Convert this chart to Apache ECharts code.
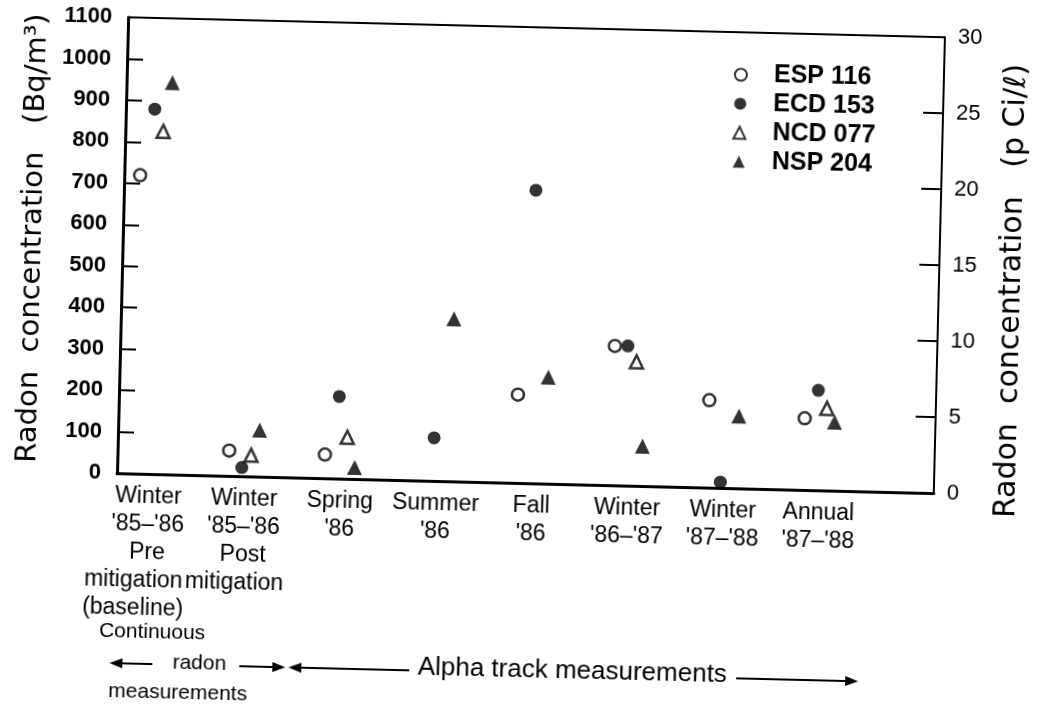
<!DOCTYPE html>
<html>
<head>
<meta charset="utf-8">
<script src="https://cdn.jsdelivr.net/npm/echarts/dist/echarts.min.js"></script>
<style>
  html, body { margin: 0; padding: 0; background: #fff; overflow: hidden; }
  /* the scanned figure is tilted a little clockwise */
  #radon { width: 1043px; height: 713px; transform: rotate(1.4deg); transform-origin: 521px 356px; }
</style>
</head>
<body>
<div id="radon"></div>
<script>
var categories = [
  "Winter\n'85–'86\nPre\nmitigation\n(baseline)",
  "Winter\n'85–'86\nPost\nmitigation",
  "Spring\n'86",
  "Summer\n'86",
  "Fall\n'86",
  "Winter\n'86–'87",
  "Winter\n'87–'88",
  "Annual\n'87–'88"
];
// Bq/m3
var esp116 = [720, 61, 57, null, 213, 336, 211, 173];
var ecd153 = [880, 21, 198, 104, 707, 337, 14, 241];
var ncd077 = [827, 51, 100, null, null, 299, null, 198];
var nsp204 = [945, 112, 28, 392, 257, 96, 174, 165];
var seriesNames = ['ESP 116', 'ECD 153', 'NCD 077', 'NSP 204'];
var bqMax = 1100, bqStep = 100;
var pciMax = 30, pciStep = 5;

var font = "'Liberation Sans', Arial, sans-serif";
var wideFont = "'DejaVu Sans', sans-serif";
var chart = echarts.init(document.getElementById('radon'));

function arrow(x1, x2, y) {
  // line from x1 to x2, head drawn at x2
  var d = x2 > x1 ? -1 : 1;
  return [
    { type: 'line', shape: { x1: x1, y1: y, x2: x2 + d * 8, y2: y }, style: { stroke: '#000', lineWidth: 2 } },
    { type: 'polygon', shape: { points: [[x2, y], [x2 + d * 13, y - 5], [x2 + d * 13, y + 5]] }, style: { fill: '#000' } }
  ];
}

function note(text, x, y, size) {
  return { type: 'text', x: x, y: y, style: { text: text, font: size + 'px ' + font, fill: '#000', textAlign: 'center', textVerticalAlign: 'middle' } };
}

var graphics = [].concat(
  note('Continuous', 159, 641, 21),
  note('radon', 207, 671, 21),
  note('measurements', 186, 701, 21),
  note('Alpha track measurements', 580, 670, 26),
  arrow(160, 117, 673),
  arrow(247, 293, 673),
  arrow(417, 296, 673),
  arrow(744, 866, 673)
);

// the long lower lines of the first two labels sit a bit to the left
function catLabel(value, index) {
  var lines = value.split('\n');
  if (index < 2) {
    for (var i = 3; i < lines.length; i++) {
      lines[i] = '{s' + index + '|' + lines[i] + '}';
    }
  }
  return lines.join('\n');
}

function pointSeries(name, data, symbol, filled, size, dx) {
  return {
    name: name,
    type: 'scatter',
    xAxisIndex: 1,
    yAxisIndex: 2,
    data: data,
    symbol: symbol,
    symbolSize: size,
    symbolOffset: [dx, 0],
    itemStyle: filled ? { color: '#000' } : { color: '#fff', borderColor: '#000', borderWidth: 2.5 },
    emphasis: { disabled: true }
  };
}

option = {
  backgroundColor: '#fff',
  animation: false,
  grid: [
    { left: 120, right: 106, top: 27, bottom: 230, show: true, borderColor: '#000', borderWidth: 2, outerBoundsMode: 'none' },
    { left: 104, width: 766, top: 27, bottom: 230, outerBoundsMode: 'none' }
  ],
  legend: {
    orient: 'vertical',
    left: 722,
    top: 52,
    itemWidth: 12,
    itemHeight: 12,
    itemGap: 4,
    data: seriesNames,
    textStyle: { fontFamily: font, fontSize: 25, fontWeight: 'bold', color: '#000', lineHeight: 24, padding: [0, 0, 0, 22] }
  },
  xAxis: [
    {
      gridIndex: 0, type: 'value', min: 0, max: 1,
      axisLine: { show: true, lineStyle: { color: '#000', width: 3 } },
      axisTick: { show: false }, axisLabel: { show: false }, splitLine: { show: false }
    },
    {
      gridIndex: 1, type: 'category', data: categories,
      axisLine: { show: false }, axisTick: { show: false },
      axisLabel: {
        interval: 0, margin: 9, color: '#000', fontFamily: font, fontSize: 23, lineHeight: 28,
        formatter: catLabel,
        rich: {
          s0: { fontFamily: font, fontSize: 23, color: '#000', padding: [0, 26, 0, 0] },
          s1: { fontFamily: font, fontSize: 23, color: '#000', padding: [0, 16, 0, 0] }
        }
      }
    }
  ],
  yAxis: [
    {
      gridIndex: 0, type: 'value', position: 'left', min: 0, max: bqMax, interval: bqStep,
      name: 'Radon  concentration   (Bq/m³)', nameLocation: 'middle', nameGap: 75, nameMoveOverlap: false,
      nameTextStyle: { fontFamily: wideFont, fontSize: 29, color: '#000', padding: [0, 0, 0, 10] },
      axisLine: { show: true, lineStyle: { color: '#000', width: 3 } },
      axisTick: { show: true, inside: true, length: 16, lineStyle: { color: '#000', width: 2 } },
      axisLabel: { margin: 16, color: '#000', fontFamily: font, fontSize: 22, fontWeight: 'bold', formatter: function (v) { return String(v); } },
      splitLine: { show: false }
    },
    {
      gridIndex: 0, type: 'value', position: 'right', min: 0, max: pciMax, interval: pciStep,
      name: 'Radon  concentration   (p Ci/ℓ)', nameLocation: 'middle', nameGap: 58, nameMoveOverlap: false,
      nameTextStyle: { fontFamily: wideFont, fontSize: 30, color: '#000', padding: [0, 48, 0, 0] },
      axisLine: { show: true, lineStyle: { color: '#000', width: 2 } },
      axisTick: { show: true, inside: true, length: 20, lineStyle: { color: '#000', width: 2 } },
      axisLabel: { margin: 13, color: '#000', fontFamily: font, fontSize: 22 },
      splitLine: { show: false }
    },
    { gridIndex: 1, type: 'value', min: 0, max: bqMax, show: false }
  ],
  graphic: graphics,
  series: [
    pointSeries(seriesNames[0], esp116, 'circle', false, 12, -16),
    pointSeries(seriesNames[1], ecd153, 'circle', true, 13, -3),
    pointSeries(seriesNames[2], ncd077, 'triangle', false, 13, 6),
    pointSeries(seriesNames[3], nsp204, 'triangle', true, 15, 14)
  ]
};

chart.setOption(option);
</script>
</body>
</html>
